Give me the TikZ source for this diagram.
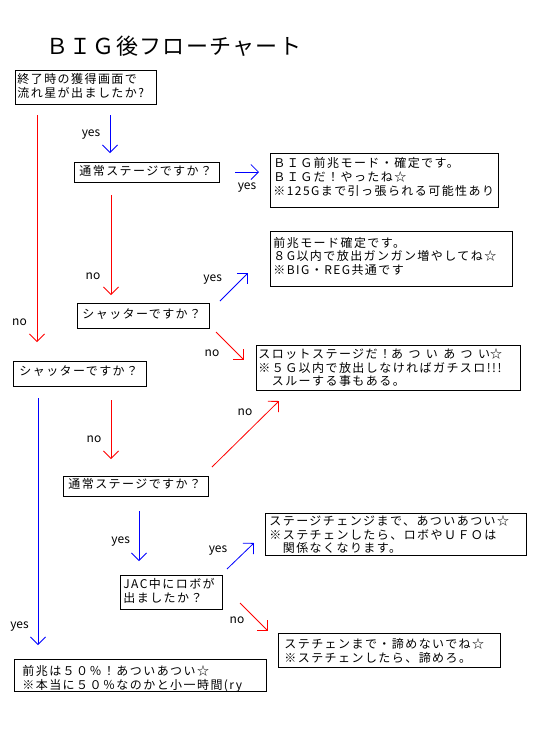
\documentclass[tikz,border=0pt]{standalone}
\usepackage{fontspec}
\setmainfont{Noto Sans CJK JP}
\newfontfamily\boxfont[LetterSpace=12]{Noto Sans CJK JP}
\newfontfamily\boxwidefont[LetterSpace=45]{Noto Sans CJK JP}
\newfontfamily\ttlfont[LetterSpace=6]{Noto Sans CJK JP}
\usetikzlibrary{arrows.meta}
\definecolor{blueA}{RGB}{0,0,255}
\definecolor{redA}{RGB}{255,0,0}
\newcommand{\myboxtext}[3]{\parbox[c][#2][t]{#1}{\fontsize{12pt}{13.8pt}\boxfont #3}}
\tikzset{
  box/.style={draw, line width=0.8pt, anchor=north west, inner sep=0pt},
  lab/.style={font=\fontsize{12pt}{14pt}\selectfont, anchor=base, inner sep=0pt},
  arr/.style={line width=0.8pt, -{Straight Barb[length=7.5pt,width=15pt]}},
  ya/.style={arr, draw=blueA},
  na/.style={arr, draw=redA},
  ttl/.style={font=\fontsize{22pt}{26pt}\ttlfont, anchor=base west, inner sep=0pt}
}
\begin{document}
\begin{tikzpicture}[x=1pt,y=-1pt]
\useasboundingbox (0,0) rectangle (535,729);
\node[ttl] (title) at (46,54) {ＢＩＧ後フローチャート};

% boxes
\node[box, inner xsep=2pt, inner ysep=3pt] (b1) at (15,70)
  {\myboxtext{137pt}{28pt}{終了時の獲得画面で\\流れ星が出ましたか?}};
\node[box, inner xsep=5pt, inner ysep=3pt] (b2) at (74,162)
  {\myboxtext{135pt}{14pt}{通常ステージですか？}};
\node[box, inner xsep=3pt, inner ysep=4pt] (b3) at (270,153)
  {\myboxtext{222pt}{46pt}{ＢＩＧ前兆モード・確定です。\\ＢＩＧだ！やったね☆\\※125Gまで引っ張られる可能性あり}};
\node[box, inner xsep=3pt, inner ysep=5.5pt] (b5) at (270,231)
  {\myboxtext{236pt}{44pt}{前兆モード確定です。\\８G以内で放出ガンガン増やしてね☆\\※BIG・REG共通です}};
\node[box, inner xsep=5pt, inner ysep=5pt] (b4) at (77,303)
  {\myboxtext{122pt}{15pt}{シャッターですか？}};
\node[box, inner xsep=2pt, inner ysep=3pt] (b6) at (256,345)
  {\myboxtext{260pt}{39pt}{スロットステージだ！{\boxwidefont あついあつい}☆\\※５Ｇ以内で放出しなければガチスロ!!!\\　スルーする事もある。}};
\node[box, inner xsep=6pt, inner ysep=4pt] (b7) at (13,361)
  {\myboxtext{121pt}{17pt}{シャッターですか？}};
\node[box, inner xsep=5pt, inner ysep=2pt] (b8) at (63,476)
  {\myboxtext{135pt}{16pt}{通常ステージですか？}};
\node[box, inner xsep=4pt, inner ysep=2pt] (b10) at (265,513)
  {\myboxtext{253pt}{38pt}{ステージチェンジまで、あついあつい☆\\※ステチェンしたら、ロボやＵＦＯは\\　関係なくなります。}};
\node[box, inner xsep=3pt, inner ysep=3pt] (b9) at (120,575)
  {\myboxtext{96pt}{28pt}{JAC中にロボが\\出ましたか？}};
\node[box, inner xsep=6pt, inner ysep=5pt] (b11) at (278,633)
  {\myboxtext{210pt}{24pt}{ステチェンまで・諦めないでね☆\\※ステチェンしたら、諦めろ。}};
\node[box, inner xsep=8pt, inner ysep=6pt] (b12) at (14,659)
  {\myboxtext{236pt}{20pt}{前兆は５０％！あついあつい☆\\※本当に５０％なのかと小一時間(ry}};

% connector end points
\coordinate (a1s) at (37,115);  \coordinate (a1e) at (37,342);
\coordinate (a2s) at (110,115); \coordinate (a2e) at (110,153);
\coordinate (a3s) at (235,172); \coordinate (a3e) at (259,172);
\coordinate (a4s) at (111,195); \coordinate (a4e) at (111,295);
\coordinate (a5s) at (220,301); \coordinate (a5e) at (248,273);
\coordinate (a6s) at (216,332); \coordinate (a6e) at (244,360);
\coordinate (a7s) at (111,400); \coordinate (a7e) at (111,459);
\coordinate (a8s) at (38,398);  \coordinate (a8e) at (38,645);
\coordinate (a9s) at (212,467); \coordinate (a9e) at (279,401);
\coordinate (a10s) at (139,511); \coordinate (a10e) at (139,561);
\coordinate (a11s) at (227,569); \coordinate (a11e) at (254,543);
\coordinate (a12s) at (240,603); \coordinate (a12e) at (268,631);

\draw[na] (a1s) -- (a1e);
\draw[ya] (a2s) -- (a2e);
\draw[ya] (a3s) -- (a3e);
\draw[na] (a4s) -- (a4e);
\draw[ya] (a5s) -- (a5e);
\draw[na] (a6s) -- (a6e);
\draw[na] (a7s) -- (a7e);
\draw[ya] (a8s) -- (a8e);
\draw[na] (a9s) -- (a9e);
\draw[ya] (a10s) -- (a10e);
\draw[ya] (a11s) -- (a11e);
\draw[na] (a12s) -- (a12e);

% labels
\node[lab] (l1) at (19.5,325) {no};
\node[lab] (l2) at (91,136) {yes};
\node[lab] (l3) at (247,189) {yes};
\node[lab] (l4) at (93,279) {no};
\node[lab] (l5) at (212.7,281.5) {yes};
\node[lab] (l6) at (212,356.5) {no};
\node[lab] (l7) at (94,442) {no};
\node[lab] (l8) at (19.5,628) {yes};
\node[lab] (l9) at (245,415) {no};
\node[lab] (l10) at (120.7,543) {yes};
\node[lab] (l11) at (218,552) {yes};
\node[lab] (l12) at (237,623.5) {no};
\end{tikzpicture}
\end{document}
